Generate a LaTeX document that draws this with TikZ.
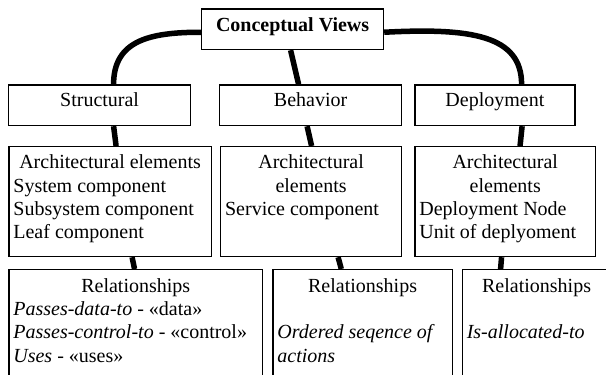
\documentclass[tikz,border=0pt]{standalone}
\usepackage{fontspec}
\setmainfont{Liberation Serif}
\usetikzlibrary{calc}
\newcommand\bxt[3]{\vbox to #1{\hsize=#2\relax\fontsize{20}{23.3}\selectfont #3\vfil}}
\newcommand\bxf[2]{\hbox to\hsize{\hss\rule{0pt}{#1}#2\hss}}
\newcommand\bxc[1]{\hbox to\hsize{\hss#1\hss}}
\newcommand\bxl[1]{\hbox to\hsize{#1\hss}}
\newcommand\bxgap{\hbox{}}
\tikzset{
  box/.style={draw, line width=1.2pt, fill=white, inner xsep=4.5pt, inner ysep=0pt, anchor=north west},
  conn/.style={line width=5.5pt}
}
\begin{document}
\begin{tikzpicture}[x=1pt,y=-1pt]
\useasboundingbox (0,0) rectangle (606,375);
\fill[white] (0,0) rectangle (606,375);
\clip (0,0) rectangle (606,375);
% row 1
\node[box] (cv) at (201,8.3) {\bxt{40.7pt}{173pt}{\bxf{22.7pt}{\bfseries Conceptual Views}}};
% row 2
\node[box] (st) at (8,84.3) {\bxt{40.7pt}{173pt}{\bxf{21.7pt}{Structural}}};
\node[box] (be) at (219,84.3) {\bxt{40.7pt}{173pt}{\bxf{21.7pt}{Behavior}}};
\node[box] (de) at (414.3,84.3) {\bxt{40.7pt}{151pt}{\bxf{21.7pt}{Deployment}}};
% row 3
\node[box] (sa) at (8.3,146) {\bxt{110pt}{193.4pt}{%
  \bxf{22.3pt}{Architectural elements}\bxl{System component}\bxl{Subsystem component}\bxl{Leaf component}}};
\node[box] (ba) at (220,146) {\bxt{110pt}{172pt}{%
  \bxf{22.3pt}{Architectural}\bxc{elements}\bxl{Service component}}};
\node[box] (da) at (414.3,146) {\bxt{110pt}{171.7pt}{%
  \bxf{22.3pt}{Architectural}\bxc{elements}\bxl{Deployment Node}\bxl{Unit of deplyoment}}};
% row 4
\node[box] (sr) at (8.3,269) {\bxt{120pt}{244.7pt}{%
  \bxf{22.7pt}{Relationships}%
  \bxl{\textit{Passes-data-to} - «data»}%
  \bxl{\textit{Passes-control-to} - «control»}%
  \bxl{\textit{Uses} - «uses»}}};
\node[box] (br) at (272.3,269) {\bxt{120pt}{170.4pt}{%
  \bxf{22.7pt}{Relationships}\bxgap
  \bxl{\textit{Ordered seqence of}}\bxl{\textit{actions}}}};
\node[box] (dr) at (461.7,269) {\bxt{120pt}{139.6pt}{%
  \bxf{22.7pt}{Relationships}\bxgap
  \bxl{\textit{Is-allocated-to}}}};
% connectors
\draw[conn] ($(cv.west)+(0,3)$) .. controls +(-51,0) and +(0,-44) .. ($(st.north)+(14,0)$);
\draw[conn] ($(cv.south)+(-2,0)$) -- ($(be.north)+(-12,0)$);
\draw[conn] ($(cv.east)+(0,3)$) .. controls +(86.7,-4.6) and +(0,-49) .. ($(de.north)+(26.7,0)$);
\draw[conn] ($(st.south)+(14,0)$) -- ($(sa.north)+(6,0)$);
\draw[conn] ($(be.south)+(-3.5,0)$) -- ($(ba.north)+(0.5,0)$);
\draw[conn] ($(de.south)+(27.2,0)$) -- ($(da.north)+(14.8,0)$);
\draw[conn] ($(sa.south)+(22,0)$) -- ($(sr.north)+(-1.2,0)$);
\draw[conn] ($(ba.south)+(27,0)$) -- ($(br.north)+(-21.3,0)$);
\draw[conn] ($(da.south)+(-3.7,0)$) -- ($(dr.north)+(-36,0)$);
\end{tikzpicture}
\end{document}
